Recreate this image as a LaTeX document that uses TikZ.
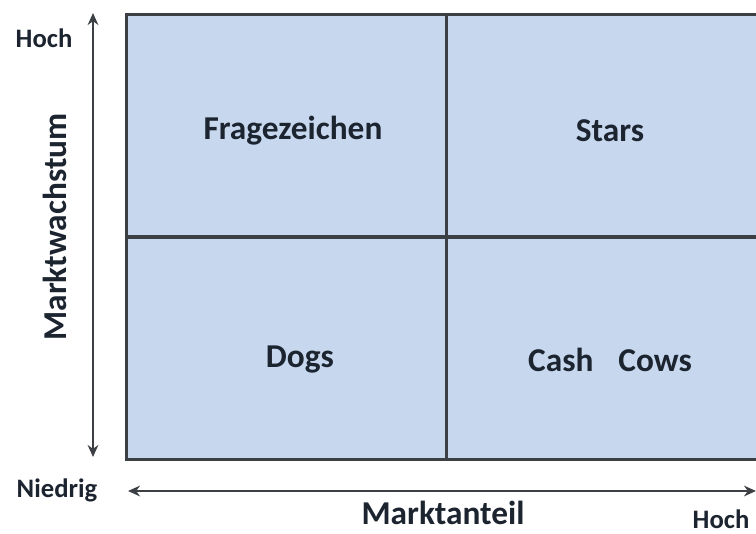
\documentclass[tikz,border=0pt]{standalone}
\usepackage{fontspec}
\setmainfont{Carlito}
\usetikzlibrary{arrows.meta, positioning}
\definecolor{quadblue}{HTML}{C6D7EE}
\definecolor{linegray}{HTML}{3C3F44}
\definecolor{textdark}{HTML}{1C2430}

\begin{document}
\begin{tikzpicture}[
    x=0.75pt, y=-0.75pt,
    every node/.style={font=\bfseries, text=textdark},
    quad/.style={draw=linegray, line width=2pt, fill=quadblue, minimum width=240pt, minimum height=166.5pt, anchor=north west, inner sep=0pt},
    axis/.style={{Stealth[length=9pt,width=8pt]}-{Stealth[length=9pt,width=8pt]}, line width=1.7pt, draw=linegray},
    label/.style={font=\bfseries\fontsize{20}{24}\selectfont, inner sep=1pt},
    title/.style={font=\bfseries\fontsize{25}{29}\selectfont, inner sep=1pt}
]
\clip (0,0) rectangle (756,533);

% Quadrants
\node[quad] (FZ) at (125,13) {};
\node[quad] (ST) at (445,13) {};
\node[quad] (DG) at (125,236) {};
\node[quad] (CC) at (445,236) {};

% Texts
\node[title] at (293,131) {Fragezeichen};
\node[title] at (610,131) {Stars};
\node[title] at (300,360) {Dogs};
\node[title] at (610,360) {Cash\hspace{0.75em}Cows};

% Axes
\coordinate (yTop) at (93,13);
\coordinate (yBot) at (93,457);
\coordinate (xLeft) at (128,491);
\coordinate (xRight) at (756,491);
\draw[axis] (yBot) -- (yTop);
\draw[axis] (xLeft) -- (xRight);

\node[label] (hochY) at (44,38) {Hoch};
\node[label] (niedrig) at (57,490) {Niedrig};
\node[label] (hochX) at (721,519) {Hoch};
\node[title, rotate=90] (wachstum) at (55,227) {Marktwachstum};
\node[title] (anteil) at (443,513) {Marktanteil};

\end{tikzpicture}
\end{document}
